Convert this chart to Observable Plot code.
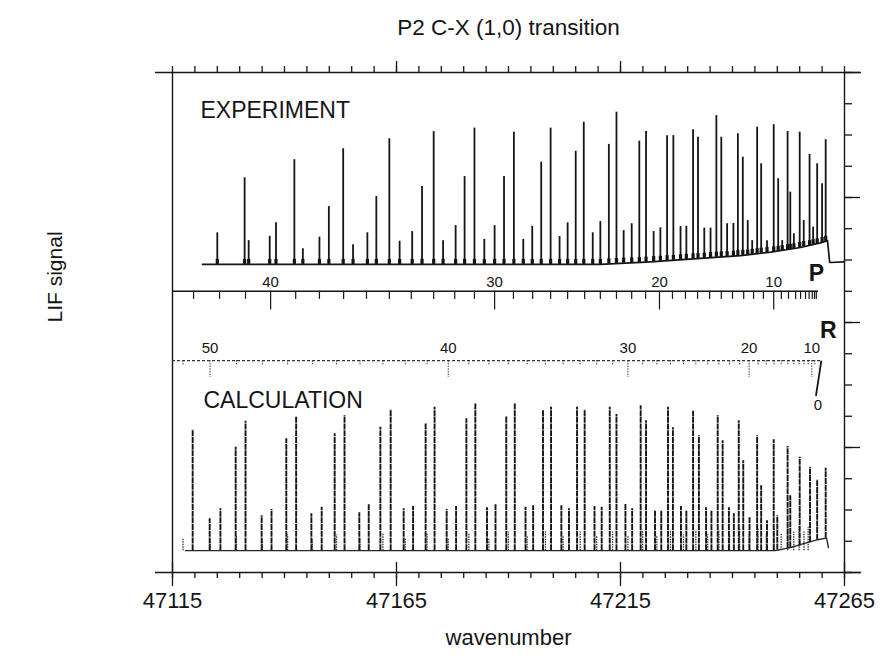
<!DOCTYPE html>
<html><head><meta charset="utf-8">
<script src="https://cdn.jsdelivr.net/npm/d3@7"></script>
<script src="https://cdn.jsdelivr.net/npm/@observablehq/plot@0.6"></script>
<style>body{margin:0;background:#fff}</style>
</head><body><div id="chart"></div>
<script>
// ---------- axes / ticks ----------
const xDomain = [47115, 47265];
const yDomain = [0, 160];
const xMajorTicks = [47115, 47165, 47215, 47265];
const xMajorLabels = ["47115", "47165", "47215", "47265"];
const xTopMajor = [47165, 47215];
const xMinorTicks = d3.range(47115, 47266, 5);
const yTicks = d3.range(0, 161, 10);
const yMajorTicks = [0, 40, 80, 120, 160];
const frameExtent = [47111.2, 47268.8];

// ---------- experiment: peaks [wavenumber, top, local base] ----------
const expPeaks = [
[47125.0,108.7,98.6],[47131.1,126.3,98.6],[47132.0,106.2,98.6],[47136.7,107.6,98.6],[47138.1,111.9,98.6],
[47142.2,132.1,98.6],[47144.1,103.6,98.6],[47147.8,107.3,98.6],[47149.9,117.1,98.6],[47153.1,135.6,98.6],
[47155.3,104.9,98.6],[47158.5,108.7,98.6],[47160.5,120.3,98.6],[47163.4,138.8,98.6],[47165.7,106.0,98.6],
[47168.5,109.1,98.6],[47170.7,123.5,98.6],[47173.3,141.1,98.6],[47175.4,106.2,98.6],[47178.2,111.0,98.6],
[47180.2,126.7,98.6],[47182.4,142.2,98.6],[47184.6,106.6,98.6],[47186.9,111.0,98.6],[47189.0,126.7,98.6],
[47191.2,140.9,98.6],[47193.3,106.6,98.6],[47195.3,110.8,98.6],[47197.3,131.3,98.6],[47199.4,142.2,98.6],
[47201.4,107.5,98.6],[47203.2,111.9,98.6],[47205.0,134.8,98.6],[47206.8,144.1,98.6],[47208.8,108.7,98.6],
[47210.5,112.3,98.6],[47212.4,137.0,98.8],[47214.1,147.3,98.9],[47215.7,109.4,99.0],[47217.5,111.6,99.1],
[47219.2,138.0,99.2],[47220.7,141.1,99.3],[47222.4,109.1,99.5],[47223.9,110.3,99.6],[47225.4,139.8,99.8],
[47226.8,139.8,99.9],[47228.4,110.7,100.1],[47229.7,110.8,100.2],[47231.2,141.7,100.4],[47232.3,139.3,100.5],
[47233.7,110.2,100.6],[47235.1,110.2,100.8],[47236.4,146.2,100.9],[47237.5,139.3,101.0],[47238.8,111.6,101.1],
[47240.2,111.7,101.2],[47241.2,140.4,101.4],[47242.3,132.9,101.5],[47243.4,112.6,101.6],[47244.4,106.2,101.8],
[47245.5,142.5,102.0],[47246.4,130.8,102.2],[47247.7,106.2,102.4],[47249.2,143.3,102.6],[47250.2,126.0,102.8],
[47251.1,106.2,103.0],[47252.3,141.1,103.3],[47252.9,121.7,103.4],[47253.7,108.4,103.6],[47255.0,140.9,104.0],
[47255.9,112.6,104.3],[47257.2,133.8,104.6],[47258.0,110.5,104.9],[47258.9,130.8,105.2],[47260.0,124.4,105.6],
[47260.8,138.5,106.0]
];
const expBaseline = [
[47121.7,98.6],[47210.5,98.6],[47221.7,99.4],[47232.9,100.5],[47241.8,101.4],[47248.5,102.5],
[47255.2,104.0],[47259.6,105.5],[47261.2,106.2],[47261.7,99.2],[47265.0,99.4]
];

// ---------- calculation: peaks [wavenumber, top, local base] ----------
const calcPeaks = [
[47119.5,45.7,7],[47123.3,17.2,7],[47125.7,20.4,7],[47129.1,40.1,7],[47131.3,48.4,7],[47134.9,18.2,7],
[47137.1,20.2,7],[47140.4,42.8,7],[47142.6,49.7,7],[47146.0,18.8,7],[47148.3,20.9,7],[47151.2,44.4,7],
[47153.4,50.2,7],[47156.7,19.1,7],[47158.8,21.7,7],[47161.4,46.5,7],[47163.7,52.1,7],[47166.6,20.4,7],
[47168.7,21.1,7],[47171.5,47.8,7],[47173.5,52.9,7],[47176.2,20.2,7],[47178.3,21.1,7],[47180.6,49.2,7],
[47182.6,54.0,7],[47185.2,20.7,7],[47187.1,21.7,7],[47189.5,49.9,7],[47191.4,54.0,7],[47193.8,20.9,7],
[47195.5,21.4,7],[47197.7,51.8,7],[47199.5,52.9,7],[47201.8,21.4,7],[47203.5,20.4,7],[47205.3,52.9,7],
[47207.0,52.1,7],[47209.2,21.1,7],[47210.8,20.9,7],[47212.6,52.9,7],[47214.1,50.6,7],[47216.1,21.8,7],
[47217.6,20.4,7],[47219.5,53.4,7],[47220.7,48.6,7],[47222.7,19.8,7],[47224.1,19.8,7],[47225.6,52.9,7],
[47226.7,46.3,7],[47228.5,21.1,7],[47229.7,19.8,7],[47231.2,51.6,7],[47232.5,43.8,7],[47234.1,20.7,7],
[47235.3,19.8,7],[47236.7,50.2,7],[47237.8,42.2,7],[47239.2,20.7,7],[47240.3,18.8,7],[47241.4,48.6,7],
[47242.4,35.8,7],[47243.8,17.7,7],[47245.5,43.8,7],[47246.4,27.8,7],[47247.7,16.6,7],[47249.2,42.5,7],
[47250.0,18.2,7.2],[47252.3,40.3,7.7],[47252.9,24.6,7.9],[47255.0,36.9,8.6],[47257.3,33.7,9.8],
[47258.9,29.7,10.3],[47260.8,33.4,11.0]
];
const calcBaseline = [
[47117.9,7.0],[47249.5,7.0],[47253.0,8.0],[47256.0,9.3],[47259.0,10.5],[47261.0,11.0],[47261.4,8.0]
];

// ---------- P branch assignment ticks [J, wavenumber] ----------
const pTicks = [
[43,47119.7],[42,47125.5],[41,47131.3],[40,47136.9],[39,47142.5],[38,47147.8],[37,47153.2],[36,47158.3],
[35,47163.4],[34,47168.3],[33,47173.3],[32,47178.0],[31,47182.4],[30,47186.9],[29,47191.1],[28,47195.4],
[27,47199.4],[26,47203.2],[25,47207.0],[24,47210.5],[23,47214.1],[22,47217.5],[21,47220.6],[20,47223.7],
[19,47226.6],[18,47229.5],[17,47232.2],[16,47234.9],[15,47237.5],[14,47240.0],[13,47242.5],[12,47244.7],
[11,47246.9],[10,47249.2],[9,47250.9],[8,47252.5],[7,47254.1],[6,47255.2],[5,47256.3],[4,47257.1],
[3,47257.8],[2,47258.3],[1,47258.7]
];
const pLabelJ = [40, 30, 20, 10];
const pAxisLevel = 90, pAxisEnd = 47259.2, pLabelLevel = 93;

// ---------- R branch assignment ticks [J, wavenumber, weak calc line top] ----------
const rTicks = [
[0,47258.63,null],[1,47259.12,null],[2,47259.49,null],[3,47259.72,null],[4,47259.83,null],
[5,47259.80,null],[6,47259.64,null],[7,47259.35,null],[8,47258.93,null],[9,47258.38,null],
[10,47257.70,null],[11,47256.89,14.5],[12,47255.95,13.0],[13,47254.87,15.0],[14,47253.67,13.0],
[15,47252.34,14.5],[16,47250.87,12.5],[17,47249.28,14.0],[18,47247.55,12.5],[19,47245.70,14.0],
[20,47243.71,12.0],[21,47241.59,14.0],[22,47239.34,12.0],[23,47236.97,13.5],[24,47234.46,12.0],
[25,47231.82,13.5],[26,47229.05,12.0],[27,47226.15,13.5],[28,47223.11,11.5],[29,47219.95,13.5],
[30,47216.66,11.5],[31,47213.24,13.0],[32,47209.68,11.5],[33,47206.00,13.0],[34,47202.18,11.5],
[35,47198.24,13.0],[36,47194.16,11.5],[37,47189.95,13.0],[38,47185.62,11.0],[39,47181.15,12.5],
[40,47176.55,11.0],[41,47171.82,12.5],[42,47166.96,11.0],[43,47161.97,12.5],[44,47156.85,11.0],
[45,47151.60,12.0],[46,47146.22,10.5],[47,47140.70,12.0],[48,47135.06,10.5],[49,47129.28,11.5],
[50,47123.38,10.5],[51,47117.34,11.0]
];
const rLabelJ = [50, 40, 30, 20, 10];
const rAxisLevel = 67.8, rLabelLevel = 71.7, rHeadJ = 4, rLowJLevel = 56.5;

const pMap = new Map(pTicks.map(d => [d[0], d[1]]));
const rMap = new Map(rTicks.map(d => [d[0], d[1]]));

const ink = "#151515";
const font = "'Liberation Sans', Arial, Helvetica, sans-serif";
const footHeight = 1.6;

const chart = Plot.plot({
  width: 880, height: 661,
  marginLeft: 172, marginRight: 36, marginTop: 72, marginBottom: 89,
  x: {domain: xDomain},
  y: {domain: yDomain},
  style: {fontFamily: font, background: "#fff", color: ink, overflow: "visible"},
  marks: [
    // frame
    Plot.ruleY([yDomain[0], yDomain[1]], {x1: frameExtent[0], x2: frameExtent[1], stroke: ink, strokeWidth: 1.4}),
    Plot.ruleX([xDomain[0], xDomain[1]], {y1: yDomain[0], y2: yDomain[1], stroke: ink, strokeWidth: 1.4}),
    Plot.axisX({anchor: "top", ticks: xMinorTicks, tickSize: 7, tickFormat: () => "", label: null, stroke: ink, strokeWidth: 1.3}),
    Plot.axisX({anchor: "top", ticks: xTopMajor, tickSize: 12, tickFormat: () => "", label: null, stroke: ink, strokeWidth: 1.3}),
    Plot.axisX({anchor: "bottom", ticks: xMinorTicks, tickSize: 6, tickFormat: () => "", label: null, stroke: ink, strokeWidth: 1.3}),
    Plot.axisX({anchor: "bottom", ticks: xMajorTicks, tickSize: 14, tickPadding: 6, fontSize: 22, label: null,
      tickFormat: d => xMajorLabels[xMajorTicks.indexOf(d)], stroke: ink, strokeWidth: 1.3, fill: ink}),
    Plot.ruleX(xMajorTicks, {y1: yDomain[0], y2: 3.2, stroke: ink, strokeWidth: 1.3}),
    Plot.axisY({anchor: "right", ticks: yTicks, tickSize: 7, tickFormat: () => "", label: null, stroke: ink, strokeWidth: 1.3}),
    Plot.axisY({anchor: "right", ticks: yMajorTicks, tickSize: 15, tickFormat: () => "", label: null, stroke: ink, strokeWidth: 1.3}),

    // experiment trace
    Plot.line(expBaseline, {x: d => d[0], y: d => d[1], stroke: ink, strokeWidth: 1.7}),
    Plot.ruleX(expPeaks, {x: d => d[0], y1: d => d[2], y2: d => Math.min(d[1], d[2] + footHeight), stroke: ink, strokeWidth: 3.2}),
    Plot.ruleX(expPeaks, {x: d => d[0], y1: d => d[2], y2: d => d[1], stroke: ink, strokeWidth: 1.8}),

    // P assignment axis
    Plot.ruleY([pAxisLevel], {x1: xDomain[0], x2: pAxisEnd, stroke: ink, strokeWidth: 1.4}),
    Plot.ruleX(pTicks, {x: d => d[1], y1: pAxisLevel, y2: d => pLabelJ.includes(d[0]) ? pAxisLevel - 6 : pAxisLevel - 2.6, stroke: ink, strokeWidth: 1.2}),
    Plot.text(pLabelJ, {x: j => pMap.get(j), y: pLabelLevel, text: j => String(j), fontSize: 15, fill: ink}),
    Plot.text(["P"], {x: pAxisEnd, y: 95.8, text: d => d, fontSize: 23, fontWeight: "bold", fill: ink, dx: -2}),

    // R assignment axis
    Plot.ruleY([rAxisLevel], {x1: xDomain[0], x2: rMap.get(rHeadJ), stroke: "#333", strokeWidth: 1.1, strokeDasharray: "3,2"}),
    Plot.ruleX(rTicks.filter(d => d[0] >= 9), {x: d => d[1], y1: rAxisLevel, y2: d => rLabelJ.includes(d[0]) ? rAxisLevel - 5.4 : rAxisLevel - 1.4, stroke: "#333", strokeWidth: 1, strokeDasharray: "1.5,1.2"}),
    Plot.link([0], {x1: () => rMap.get(rHeadJ), y1: rAxisLevel, x2: () => rMap.get(0), y2: rLowJLevel, stroke: ink, strokeWidth: 1.8}),
    Plot.text(rLabelJ, {x: j => rMap.get(j), y: rLabelLevel, text: j => String(j), fontSize: 15, fill: ink}),
    Plot.text(["R"], {x: rMap.get(rHeadJ), y: 77.4, text: d => d, fontSize: 23, fontWeight: "bold", fill: ink, dx: 7}),
    Plot.text(["0"], {x: rMap.get(0), y: 53.6, text: d => d, fontSize: 15, fill: ink, dx: 2}),

    // calculation trace
    Plot.line(calcBaseline, {x: d => d[0], y: d => d[1], stroke: "#222", strokeWidth: 1.4, strokeDasharray: "2,1"}),
    Plot.ruleX(rTicks.filter(d => d[2] != null), {x: d => d[1], y1: 7, y2: d => d[2], stroke: "#333", strokeWidth: 1.3, strokeDasharray: "1.5,1"}),
    Plot.ruleX(calcPeaks, {x: d => d[0], y1: d => d[2], y2: d => d[1], stroke: ink, strokeWidth: 1.9, strokeDasharray: "6,0.7"}),

    // texts
    Plot.text(["EXPERIMENT"], {frameAnchor: "top-left", dx: 28, dy: 38, lineAnchor: "middle", text: d => d, textAnchor: "start", fontSize: 23, fill: ink}),
    Plot.text(["CALCULATION"], {frameAnchor: "top-left", dx: 31, dy: 328, lineAnchor: "middle", text: d => d, textAnchor: "start", fontSize: 23, fill: ink}),
    Plot.text(["P2 C-X (1,0) transition"], {frameAnchor: "top", dy: -45, lineAnchor: "middle", text: d => d, fontSize: 22.5, fill: ink}),
    Plot.text(["wavenumber"], {frameAnchor: "bottom", dy: 65, lineAnchor: "middle", text: d => d, fontSize: 22, fill: ink}),
    Plot.text(["LIF signal"], {frameAnchor: "left", dx: -117, rotate: -90, lineAnchor: "middle", text: d => d, fontSize: 21, fill: ink})
  ]
});
document.getElementById("chart").appendChild(chart);
</script>
</body></html>
